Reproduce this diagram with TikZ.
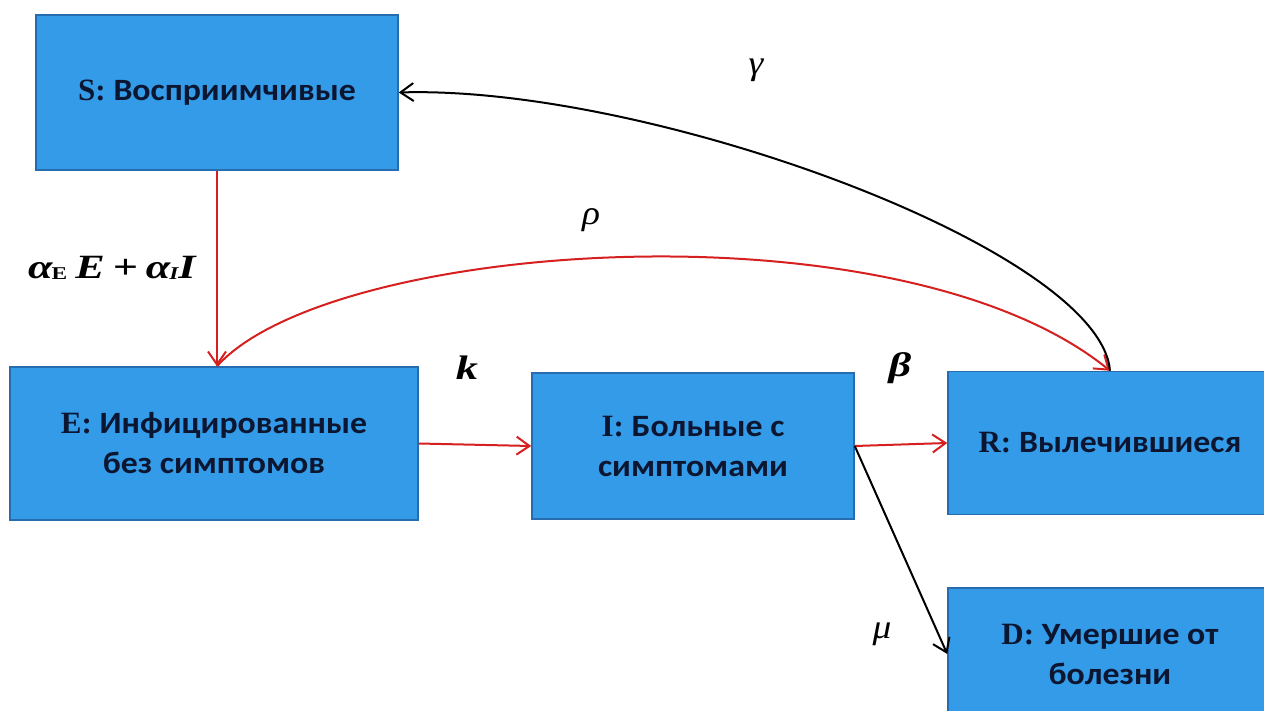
\documentclass[tikz,border=0pt]{standalone}
\usepackage{fontspec}
\setmainfont{Liberation Serif}
\newfontfamily\cyr[FakeStretch=1.09]{Carlito}
\newfontfamily\labfont[FakeStretch=1.3]{Liberation Serif}
\newfontfamily\greekfont[FakeStretch=1.1]{Liberation Serif}
\usetikzlibrary{arrows.meta}
\definecolor{boxblue}{RGB}{51,155,232}
\definecolor{boxedge}{RGB}{38,108,175}
\definecolor{txtc}{RGB}{12,22,48}
\definecolor{arrred}{RGB}{214,32,32}
\begin{document}
\begin{tikzpicture}[x=1pt,y=-1pt,
  comp/.style={draw=boxedge, line width=1.5pt, fill=boxblue, inner sep=0pt, text=txtc,
    align=center, font=\fontsize{31}{40}\selectfont\bfseries},
  flow/.style={line width=2pt, -{Straight Barb[length=13pt,width=18pt,line width=2pt]}},
  redflow/.style={flow, draw=arrred},
  blackflow/.style={flow, draw=black},
  lab/.style={inner sep=0pt, font=\labfont\fontsize{34}{34}\selectfont\bfseries\itshape},
  thinlab/.style={inner sep=0pt, font=\greekfont\fontsize{34}{34}\selectfont\itshape}]
\useasboundingbox (0,0) rectangle (1264,711);
\clip (0,0) rectangle (1264,711);
\fill[white] (0,0) rectangle (1264,711);

\node[comp, minimum width=362pt, minimum height=155pt] (S) at (217,92.5)
  {S: {\cyr Восприимчивые}};
\node[comp, minimum width=408pt, minimum height=153pt] (E) at (214,443.5)
  {E: {\cyr Инфицированные}\\{\cyr без симптомов}};
\node[comp, minimum width=322pt, minimum height=146pt] (I) at (693,446)
  {I: {\cyr Больные с}\\{\cyr симптомами}};
\node[comp, minimum width=324pt, minimum height=143pt] (R) at (1110,443)
  {R: {\cyr Вылечившиеся}};
\node[comp, minimum width=324pt, minimum height=132pt] (D) at (1110,654)
  {D: {\cyr Умершие от}\\{\cyr болезни}};

\coordinate (Etop) at (S.south |- E.north);
\draw[redflow] (S.south) -- (Etop);
\draw[redflow] (E.east) -- (I.west);
\draw[redflow] (I.east) -- (R.west);
\draw[blackflow] (I.east) -- (D.west);
\draw[redflow] (Etop) .. controls (330,240) and (900,200) .. (R.north);
\draw[blackflow] (R.north) .. controls (1100,250) and (650,85) .. (S.east);

\node[thinlab] (gam) at (756,70) {γ};
\node[thinlab] (rho) at (591,220) {ρ};
\node[lab, anchor=west] (alpha) at (28,268) {α\kern-1pt\raisebox{-1pt}{\fontsize{18}{18}\selectfont\upshape E}\kern8pt E\kern8pt+\kern8pt α\kern-1pt\raisebox{-1pt}{\fontsize{18}{18}\selectfont I}I};
\node[lab] (kk) at (467,368) {k};
\node[lab] (bet) at (900,368) {β};
\node[thinlab] (mu) at (882,634) {μ};
\end{tikzpicture}
\end{document}
